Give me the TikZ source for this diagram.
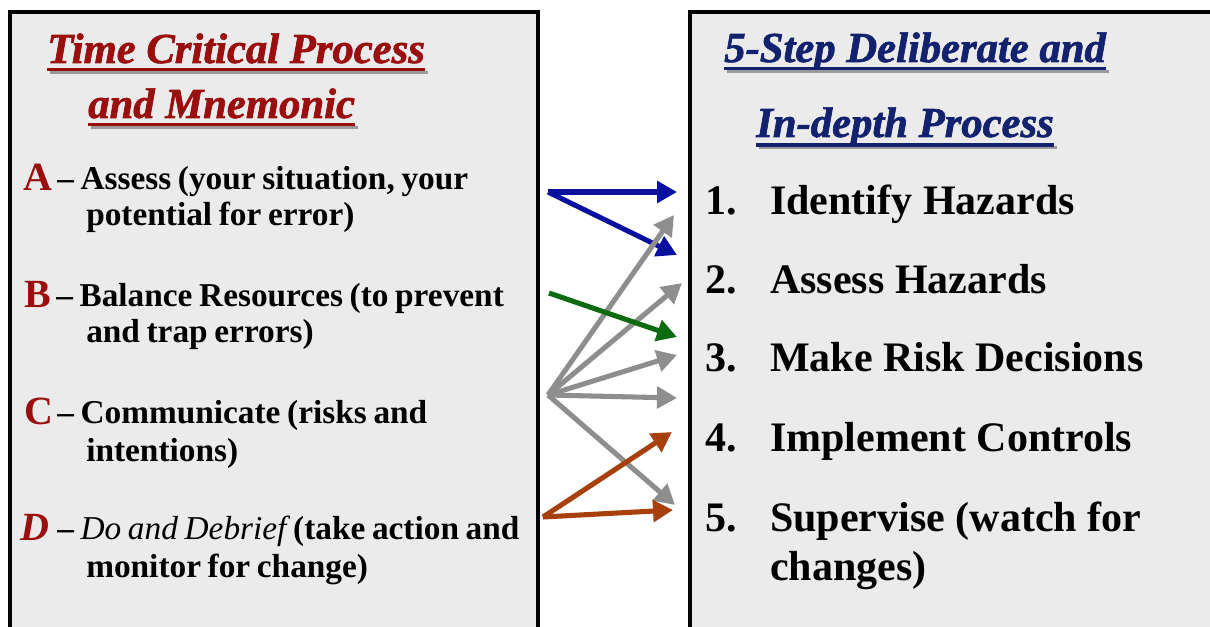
\documentclass[tikz,border=0pt]{standalone}
\usepackage{fontspec}
\setmainfont{Liberation Serif}[BoldItalicFont={Liberation Serif Bold Italic}]
\newfontfamily\ttlfont{Liberation Serif Bold Italic}[FakeBold=1.6]
\usetikzlibrary{arrows.meta}
\definecolor{boxgray}{HTML}{EBEBEB}
\definecolor{tred}{HTML}{9A0E0E}
\definecolor{tnavy}{HTML}{13226E}
\definecolor{ablue}{HTML}{0A109E}
\definecolor{agreen}{HTML}{0C6A10}
\definecolor{agray}{HTML}{8E8E8E}
\definecolor{abrown}{HTML}{A8400C}
\definecolor{shadowc}{HTML}{9A9A9A}
\newcommand{\tightspace}{\spaceskip=0.2em\relax}
\begin{document}
\begin{tikzpicture}[x=0.75pt,y=-0.75pt,
  panel/.style={draw=black, line width=2.3pt, fill=boxgray},
  ttl/.style={anchor=base west, inner sep=0, font=\ttlfont\fontsize{32}{36}\selectfont},
  uline/.style={line width=2.3pt},
  big/.style={anchor=base west, inner sep=0, text=tred, font=\fontsize{30}{32}\selectfont\bfseries},
  itm/.style={anchor=base west, inner sep=0, font=\fontsize{25}{28}\selectfont\bfseries, execute at begin node=\tightspace},
  ritm/.style={anchor=base west, inner sep=0, font=\fontsize{31.5}{36}\selectfont\bfseries},
  arr/.style={line width=3.8pt, -{Triangle[length=15pt,width=16pt]}}
]
\useasboundingbox (0,0) rectangle (1210,627);
\begin{scope}
  \clip (0,0) rectangle (1210,627);
  \draw[panel] (10,12) rectangle (538,660);
  \draw[panel] (690,12) rectangle (1240,660);
\end{scope}

% left title
\node[ttl, text=tred] (t1) at (47,63) {Time Critical Process};
\node[ttl, text=tred] (t2) at (88,118) {and Mnemonic};
\draw[uline, shadowc] ([xshift=2pt,yshift=-7pt]t1.base west) -- ([xshift=2pt,yshift=-7pt]t1.base east);
\draw[uline, tred] ([yshift=-5pt]t1.base west) -- ([yshift=-5pt]t1.base east);
\draw[uline, shadowc] ([xshift=2pt,yshift=-7pt]t2.base west) -- ([xshift=2pt,yshift=-7pt]t2.base east);
\draw[uline, tred] ([yshift=-5pt]t2.base west) -- ([yshift=-5pt]t2.base east);

% right title
\node[ttl, text=tnavy] (r1) at (724,62) {5-Step Deliberate and};
\node[ttl, text=tnavy] (r2) at (756,137) {In-depth Process};
\draw[uline, shadowc] ([xshift=2pt,yshift=-7pt]r1.base west) -- ([xshift=2pt,yshift=-7pt]r1.base east);
\draw[uline, tnavy] ([yshift=-5pt]r1.base west) -- ([yshift=-5pt]r1.base east);
\draw[uline, shadowc] ([xshift=2pt,yshift=-8pt]r2.base west) -- ([xshift=2pt,yshift=-8pt]r2.base east);
\draw[uline, tnavy] ([yshift=-6pt]r2.base west) -- ([yshift=-6pt]r2.base east);

% left items
\node[big] (la) at (23,191) {A};
\node[itm] (la1) at (57,190) {– Assess (your situation, your};
\node[itm] (la2) at (86,226) {potential for error)};

\node[big] (lb) at (24,307) {B};
\node[itm] (lb1) at (56,306) {– Balance Resources (to prevent};
\node[itm] (lb2) at (86,342) {and trap errors)};

\node[big] (lc) at (24,424) {C};
\node[itm] (lc1) at (57,423) {– Communicate (risks and};
\node[itm] (lc2) at (86,461) {intentions)};

\node[big] (ld) at (20,540) {\itshape D};
\node[itm] (ld1) at (57,539) {– {\mdseries\itshape Do and Debrief} (take action and};
\node[itm] (ld2) at (86,577) {monitor for change)};

% right items
\node[ritm] (n1) at (705,215) {1.};
\node[ritm] (s1) at (770,215) {Identify Hazards};
\node[ritm] (n2) at (705,294) {2.};
\node[ritm] (s2) at (770,294) {Assess Hazards};
\node[ritm] (n3) at (705,371) {3.};
\node[ritm] (s3) at (770,371) {Make Risk Decisions};
\node[ritm] (n4) at (705,451) {4.};
\node[ritm] (s4) at (770,451) {Implement Controls};
\node[ritm] (n5) at (705,531) {5.};
\node[ritm] (s5) at (770,531) {Supervise (watch for};
\node[ritm] (s5b) at (770,580) {changes)};

% arrow end points
\coordinate (pa) at (548,192);
\coordinate (pb) at (549,293);
\coordinate (pc) at (548,395);
\coordinate (pd) at (543,517);
\coordinate (q1) at (677,192);
\coordinate (q1b) at (677,255);
\coordinate (q2) at (677,337);
\coordinate (g1) at (674,215);
\coordinate (g2) at (682,283);
\coordinate (g3) at (677,355);
\coordinate (g4) at (677,398);
\coordinate (g5) at (675,505);
\coordinate (o1) at (672,432);
\coordinate (o2) at (673,510);

\draw[arr, ablue] (pa) -- (q1);
\draw[arr, ablue] (pa) -- (q1b);
\draw[arr, agray] (pc) -- (g1);
\draw[arr, agray] (pc) -- (g2);
\draw[arr, agray] (pc) -- (g3);
\draw[arr, agray] (pc) -- (g4);
\draw[arr, agray] (pc) -- (g5);
\draw[arr, agreen] (pb) -- (q2);
\draw[arr, abrown] (pd) -- (o1);
\draw[arr, abrown] (pd) -- (o2);
\end{tikzpicture}
\end{document}
